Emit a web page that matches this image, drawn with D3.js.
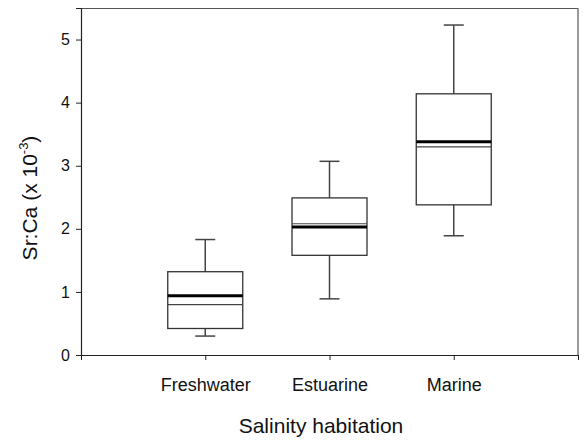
<!DOCTYPE html>
<html><head><meta charset="utf-8">
<script src="https://cdn.jsdelivr.net/npm/d3@7"></script>
<style>body{margin:0;background:#fff}svg{display:block}text{font-family:"Liberation Sans",Arial,sans-serif;fill:#111}</style>
</head><body><svg id="c" width="585" height="440"></svg>
<script>
const categories = ["Freshwater", "Estuarine", "Marine"];
const whiskerLow = [0.30, 0.89, 1.89];
const q1 = [0.42, 1.58, 2.38];
const median = [0.80, 2.08, 3.30];
const mean = [0.94, 2.03, 3.38];
const q3 = [1.32, 2.49, 4.14];
const whiskerHigh = [1.83, 3.07, 5.23];
const yTicks = [0, 1, 2, 3, 4, 5];

const svg = d3.select("#c");
const L = 81, R = 578, T = 8, B = 355;
const x = d3.scaleLinear().domain([0, categories.length + 1]).range([L, R]);
const y = d3.scaleLinear().domain([0, 5.5]).range([B, T]);
const boxW = 75, capW = 20;
const ink = "#222";

// frame top & right
svg.append("line").attr("x1", L).attr("x2", R).attr("y1", T + 0.5).attr("y2", T + 0.5).attr("stroke", "#555").attr("stroke-width", 1.2);
svg.append("line").attr("x1", R).attr("x2", R).attr("y1", T).attr("y2", B).attr("stroke", "#777").attr("stroke-width", 1.5);

// axes
const yAxis = svg.append("g").attr("transform", `translate(${L},0)`)
  .call(d3.axisLeft(y).tickValues(yTicks).tickFormat(d3.format("d")).tickSize(5).tickPadding(6));
const xAxis = svg.append("g").attr("transform", `translate(0,${B})`)
  .call(d3.axisBottom(x).tickValues(d3.range(0, categories.length + 2))
    .tickFormat(i => (i >= 1 && i <= categories.length) ? categories[i - 1] : "")
    .tickSize(5).tickSizeOuter(0).tickPadding(18));
[yAxis, xAxis].forEach(g => {
  g.select(".domain").attr("stroke", ink).attr("stroke-width", 1.2);
  g.selectAll(".tick line").attr("stroke", ink).attr("stroke-width", 1);
  g.selectAll("text").attr("font-family", "Liberation Sans, Arial, sans-serif").attr("fill", "#111");
});
yAxis.selectAll("text").attr("font-size", 16);
xAxis.selectAll("text").attr("font-size", 18);

// boxes
const data = categories.map((c, i) => ({c, i, lo: whiskerLow[i], q1: q1[i], med: median[i], mean: mean[i], q3: q3[i], hi: whiskerHigh[i]}));
const g = svg.selectAll("g.box").data(data).join("g").attr("class", "box");
g.append("line").attr("x1", d => x(d.i + 1)).attr("x2", d => x(d.i + 1)).attr("y1", d => y(d.hi)).attr("y2", d => y(d.q3)).attr("stroke", "#444").attr("stroke-width", 1.5);
g.append("line").attr("x1", d => x(d.i + 1)).attr("x2", d => x(d.i + 1)).attr("y1", d => y(d.q1)).attr("y2", d => y(d.lo)).attr("stroke", "#444").attr("stroke-width", 1.5);
g.append("line").attr("x1", d => x(d.i + 1) - capW / 2).attr("x2", d => x(d.i + 1) + capW / 2).attr("y1", d => y(d.hi)).attr("y2", d => y(d.hi)).attr("stroke", "#444").attr("stroke-width", 1.5);
g.append("line").attr("x1", d => x(d.i + 1) - capW / 2).attr("x2", d => x(d.i + 1) + capW / 2).attr("y1", d => y(d.lo)).attr("y2", d => y(d.lo)).attr("stroke", "#444").attr("stroke-width", 1.5);
g.append("rect").attr("x", d => x(d.i + 1) - boxW / 2).attr("width", boxW)
  .attr("y", d => y(d.q3)).attr("height", d => y(d.q1) - y(d.q3))
  .attr("fill", "none").attr("stroke", "#333").attr("stroke-width", 1.3);
g.append("line").attr("x1", d => x(d.i + 1) - boxW / 2).attr("x2", d => x(d.i + 1) + boxW / 2).attr("y1", d => y(d.med)).attr("y2", d => y(d.med)).attr("stroke", "#444").attr("stroke-width", 1.2);
g.append("line").attr("x1", d => x(d.i + 1) - boxW / 2).attr("x2", d => x(d.i + 1) + boxW / 2).attr("y1", d => y(d.mean)).attr("y2", d => y(d.mean)).attr("stroke", "#000").attr("stroke-width", 3);

// axis titles
svg.append("text").attr("x", 321).attr("y", 433).attr("text-anchor", "middle").attr("font-size", 21).text("Salinity habitation");
const yt = svg.append("text").attr("transform", `translate(37,198) rotate(-90)`).attr("text-anchor", "middle").attr("font-size", 21);
yt.append("tspan").text("Sr:Ca (x 10");
yt.append("tspan").attr("font-size", 13).attr("dy", -9).text("-3");
yt.append("tspan").attr("dy", 9).text(")");
</script></body></html>
